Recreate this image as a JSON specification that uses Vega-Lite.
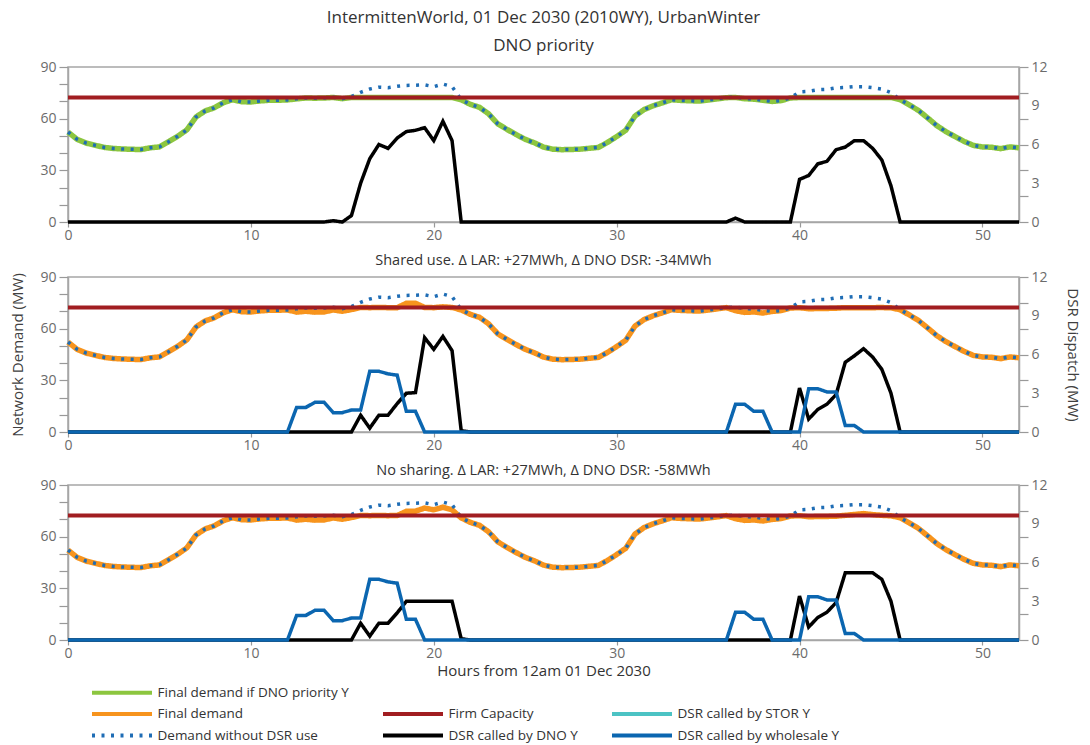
{
  "$schema": "https://vega.github.io/schema/vega-lite/v6.json",
  "padding": {"left": 10, "right": 2, "top": 8, "bottom": 1},
  "config": {
    "font": "Open Sans",
    "view": {"stroke": "#a6a6a6", "strokeWidth": 1.5},
    "axis": {"labelFont": "Open Sans", "labelFontSize": 14, "labelColor": "#6b6b6b", "domainColor": "#a6a6a6", "tickColor": "#999999", "domainWidth": 1.5, "tickWidth": 1.2, "grid": false, "titleFont": "Open Sans", "titleFontSize": 15, "titleColor": "#404040", "titleFontWeight": "normal", "labelFlush": false, "labelOverlap": false, "labelBound": false},
    "title": {"fontWeight": "normal", "color": "#333333", "font": "Open Sans", "frame": "group", "anchor": "middle"},
    "legend": {"labelFont": "Open Sans"},
    "concat": {"spacing": 8}
  },
  "datasets": {
    "cap": [{"t": 0, "v": 72.3}, {"t": 52, "v": 72.3}],
    "d": [
      {"t":0,"D":52.2,"F1":52.2,"F2":52.2,"F3":52.2,"K1":0,"K2":0,"K3":0,"W":0},
      {"t":0.5,"D":48.0,"F1":48.0,"F2":48.0,"F3":48.0,"K1":0,"K2":0,"K3":0,"W":0},
      {"t":1,"D":45.8,"F1":45.8,"F2":45.8,"F3":45.8,"K1":0,"K2":0,"K3":0,"W":0},
      {"t":1.5,"D":44.5,"F1":44.5,"F2":44.5,"F3":44.5,"K1":0,"K2":0,"K3":0,"W":0},
      {"t":2,"D":43.3,"F1":43.3,"F2":43.3,"F3":43.3,"K1":0,"K2":0,"K3":0,"W":0},
      {"t":2.5,"D":42.7,"F1":42.7,"F2":42.7,"F3":42.7,"K1":0,"K2":0,"K3":0,"W":0},
      {"t":3,"D":42.4,"F1":42.4,"F2":42.4,"F3":42.4,"K1":0,"K2":0,"K3":0,"W":0},
      {"t":3.5,"D":42.2,"F1":42.2,"F2":42.2,"F3":42.2,"K1":0,"K2":0,"K3":0,"W":0},
      {"t":4,"D":42.1,"F1":42.1,"F2":42.1,"F3":42.1,"K1":0,"K2":0,"K3":0,"W":0},
      {"t":4.5,"D":43.1,"F1":43.1,"F2":43.1,"F3":43.1,"K1":0,"K2":0,"K3":0,"W":0},
      {"t":5,"D":43.6,"F1":43.6,"F2":43.6,"F3":43.6,"K1":0,"K2":0,"K3":0,"W":0},
      {"t":5.5,"D":46.6,"F1":46.6,"F2":46.6,"F3":46.6,"K1":0,"K2":0,"K3":0,"W":0},
      {"t":6,"D":49.8,"F1":49.8,"F2":49.8,"F3":49.8,"K1":0,"K2":0,"K3":0,"W":0},
      {"t":6.5,"D":53.5,"F1":53.5,"F2":53.5,"F3":53.5,"K1":0,"K2":0,"K3":0,"W":0},
      {"t":7,"D":61.0,"F1":61.0,"F2":61.0,"F3":61.0,"K1":0,"K2":0,"K3":0,"W":0},
      {"t":7.5,"D":64.5,"F1":64.5,"F2":64.5,"F3":64.5,"K1":0,"K2":0,"K3":0,"W":0},
      {"t":8,"D":66.3,"F1":66.3,"F2":66.3,"F3":66.3,"K1":0,"K2":0,"K3":0,"W":0},
      {"t":8.5,"D":69.3,"F1":69.3,"F2":69.3,"F3":69.3,"K1":0,"K2":0,"K3":0,"W":0},
      {"t":9,"D":71.0,"F1":71.0,"F2":71.0,"F3":71.0,"K1":0,"K2":0,"K3":0,"W":0},
      {"t":9.5,"D":69.8,"F1":69.8,"F2":69.8,"F3":69.8,"K1":0,"K2":0,"K3":0,"W":0},
      {"t":10,"D":69.7,"F1":69.7,"F2":69.7,"F3":69.7,"K1":0,"K2":0,"K3":0,"W":0},
      {"t":10.5,"D":70.3,"F1":70.3,"F2":70.3,"F3":70.3,"K1":0,"K2":0,"K3":0,"W":0},
      {"t":11,"D":70.7,"F1":70.7,"F2":70.7,"F3":70.7,"K1":0,"K2":0,"K3":0,"W":0},
      {"t":11.5,"D":70.7,"F1":70.7,"F2":70.7,"F3":70.7,"K1":0,"K2":0,"K3":0,"W":0},
      {"t":12,"D":70.9,"F1":70.9,"F2":70.9,"F3":70.9,"K1":0,"K2":0,"K3":0,"W":0},
      {"t":12.5,"D":71.5,"F1":71.5,"F2":69.6,"F3":69.6,"K1":0,"K2":0,"K3":0,"W":1.9},
      {"t":13,"D":72.0,"F1":72.0,"F2":70.1,"F3":70.1,"K1":0,"K2":0,"K3":0,"W":1.9},
      {"t":13.5,"D":71.9,"F1":71.9,"F2":69.6,"F3":69.6,"K1":0,"K2":0,"K3":0,"W":2.3},
      {"t":14,"D":72.0,"F1":72.0,"F2":69.7,"F3":69.7,"K1":0,"K2":0,"K3":0,"W":2.3},
      {"t":14.5,"D":72.4,"F1":72.3,"F2":70.9,"F3":70.9,"K1":0.1,"K2":0,"K3":0,"W":1.5},
      {"t":15,"D":71.6,"F1":71.6,"F2":70.1,"F3":70.1,"K1":0,"K2":0,"K3":0,"W":1.5},
      {"t":15.5,"D":72.8,"F1":72.3,"F2":71.1,"F3":71.1,"K1":0.5,"K2":0,"K3":0,"W":1.7},
      {"t":16,"D":75.3,"F1":72.3,"F2":72.3,"F3":72.3,"K1":3.0,"K2":1.3,"K3":1.3,"W":1.7},
      {"t":16.5,"D":77.2,"F1":72.3,"F2":72.2,"F3":72.2,"K1":4.9,"K2":0.3,"K3":0.3,"W":4.7},
      {"t":17,"D":78.3,"F1":72.3,"F2":72.3,"F3":72.3,"K1":6.0,"K2":1.3,"K3":1.3,"W":4.7},
      {"t":17.5,"D":78.0,"F1":72.3,"F2":72.2,"F3":72.2,"K1":5.7,"K2":1.3,"K3":1.3,"W":4.5},
      {"t":18,"D":78.8,"F1":72.3,"F2":72.2,"F3":72.3,"K1":6.5,"K2":2.2,"K3":2.1,"W":4.4},
      {"t":18.5,"D":79.3,"F1":72.3,"F2":74.7,"F3":74.7,"K1":7.0,"K2":3.0,"K3":3.0,"W":1.6},
      {"t":19,"D":79.4,"F1":72.3,"F2":74.75,"F3":74.8,"K1":7.1,"K2":3.05,"K3":3.0,"W":1.6},
      {"t":19.5,"D":79.6,"F1":72.3,"F2":72.3,"F3":76.6,"K1":7.3,"K2":7.3,"K3":3.0,"W":0},
      {"t":20,"D":78.6,"F1":72.3,"F2":72.2,"F3":75.6,"K1":6.3,"K2":6.4,"K3":3.0,"W":0},
      {"t":20.5,"D":80.1,"F1":72.3,"F2":72.7,"F3":77.1,"K1":7.8,"K2":7.4,"K3":3.0,"W":0},
      {"t":21,"D":78.6,"F1":72.3,"F2":72.3,"F3":75.6,"K1":6.3,"K2":6.3,"K3":3.0,"W":0},
      {"t":21.5,"D":71.0,"F1":71.0,"F2":70.9,"F3":70.9,"K1":0,"K2":0.1,"K3":0.1,"W":0},
      {"t":22,"D":68.3,"F1":68.3,"F2":68.3,"F3":68.3,"K1":0,"K2":0,"K3":0,"W":0},
      {"t":22.5,"D":66.6,"F1":66.6,"F2":66.6,"F3":66.6,"K1":0,"K2":0,"K3":0,"W":0},
      {"t":23,"D":62.8,"F1":62.8,"F2":62.8,"F3":62.8,"K1":0,"K2":0,"K3":0,"W":0},
      {"t":23.5,"D":57.0,"F1":57.0,"F2":57.0,"F3":57.0,"K1":0,"K2":0,"K3":0,"W":0},
      {"t":24,"D":53.8,"F1":53.8,"F2":53.8,"F3":53.8,"K1":0,"K2":0,"K3":0,"W":0},
      {"t":24.5,"D":50.8,"F1":50.8,"F2":50.8,"F3":50.8,"K1":0,"K2":0,"K3":0,"W":0},
      {"t":25,"D":48.0,"F1":48.0,"F2":48.0,"F3":48.0,"K1":0,"K2":0,"K3":0,"W":0},
      {"t":25.5,"D":46.0,"F1":46.0,"F2":46.0,"F3":46.0,"K1":0,"K2":0,"K3":0,"W":0},
      {"t":26,"D":43.5,"F1":43.5,"F2":43.5,"F3":43.5,"K1":0,"K2":0,"K3":0,"W":0},
      {"t":26.5,"D":42.3,"F1":42.3,"F2":42.3,"F3":42.3,"K1":0,"K2":0,"K3":0,"W":0},
      {"t":27,"D":42.0,"F1":42.0,"F2":42.0,"F3":42.0,"K1":0,"K2":0,"K3":0,"W":0},
      {"t":27.5,"D":42.1,"F1":42.1,"F2":42.1,"F3":42.1,"K1":0,"K2":0,"K3":0,"W":0},
      {"t":28,"D":42.3,"F1":42.3,"F2":42.3,"F3":42.3,"K1":0,"K2":0,"K3":0,"W":0},
      {"t":28.5,"D":42.8,"F1":42.8,"F2":42.8,"F3":42.8,"K1":0,"K2":0,"K3":0,"W":0},
      {"t":29,"D":43.3,"F1":43.3,"F2":43.3,"F3":43.3,"K1":0,"K2":0,"K3":0,"W":0},
      {"t":29.5,"D":46.2,"F1":46.2,"F2":46.2,"F3":46.2,"K1":0,"K2":0,"K3":0,"W":0},
      {"t":30,"D":49.6,"F1":49.6,"F2":49.6,"F3":49.6,"K1":0,"K2":0,"K3":0,"W":0},
      {"t":30.5,"D":53.3,"F1":53.3,"F2":53.3,"F3":53.3,"K1":0,"K2":0,"K3":0,"W":0},
      {"t":31,"D":61.5,"F1":61.5,"F2":61.5,"F3":61.5,"K1":0,"K2":0,"K3":0,"W":0},
      {"t":31.5,"D":65.3,"F1":65.3,"F2":65.3,"F3":65.3,"K1":0,"K2":0,"K3":0,"W":0},
      {"t":32,"D":67.5,"F1":67.5,"F2":67.5,"F3":67.5,"K1":0,"K2":0,"K3":0,"W":0},
      {"t":32.5,"D":69.2,"F1":69.2,"F2":69.2,"F3":69.2,"K1":0,"K2":0,"K3":0,"W":0},
      {"t":33,"D":71.0,"F1":71.0,"F2":71.0,"F3":71.0,"K1":0,"K2":0,"K3":0,"W":0},
      {"t":33.5,"D":70.6,"F1":70.6,"F2":70.6,"F3":70.6,"K1":0,"K2":0,"K3":0,"W":0},
      {"t":34,"D":70.4,"F1":70.4,"F2":70.4,"F3":70.4,"K1":0,"K2":0,"K3":0,"W":0},
      {"t":34.5,"D":70.2,"F1":70.2,"F2":70.2,"F3":70.2,"K1":0,"K2":0,"K3":0,"W":0},
      {"t":35,"D":70.8,"F1":70.8,"F2":70.8,"F3":70.8,"K1":0,"K2":0,"K3":0,"W":0},
      {"t":35.5,"D":71.5,"F1":71.5,"F2":71.5,"F3":71.5,"K1":0,"K2":0,"K3":0,"W":0},
      {"t":36,"D":72.2,"F1":72.2,"F2":72.2,"F3":72.2,"K1":0,"K2":0,"K3":0,"W":0},
      {"t":36.5,"D":72.6,"F1":72.3,"F2":70.45,"F3":70.45,"K1":0.3,"K2":0,"K3":0,"W":2.15},
      {"t":37,"D":71.6,"F1":71.6,"F2":69.45,"F3":69.45,"K1":0,"K2":0,"K3":0,"W":2.15},
      {"t":37.5,"D":71.3,"F1":71.3,"F2":69.7,"F3":69.7,"K1":0,"K2":0,"K3":0,"W":1.6},
      {"t":38,"D":70.7,"F1":70.7,"F2":69.1,"F3":69.1,"K1":0,"K2":0,"K3":0,"W":1.6},
      {"t":38.5,"D":70.0,"F1":70.0,"F2":70.0,"F3":70.0,"K1":0,"K2":0,"K3":0,"W":0},
      {"t":39,"D":70.5,"F1":70.5,"F2":70.5,"F3":70.5,"K1":0,"K2":0,"K3":0,"W":0},
      {"t":39.5,"D":72.0,"F1":72.0,"F2":72.0,"F3":72.0,"K1":0,"K2":0,"K3":0,"W":0},
      {"t":40,"D":75.6,"F1":72.3,"F2":72.2,"F3":72.2,"K1":3.3,"K2":3.4,"K3":3.4,"W":0},
      {"t":40.5,"D":75.9,"F1":72.3,"F2":71.55,"F3":71.55,"K1":3.6,"K2":1.0,"K3":1.0,"W":3.35},
      {"t":41,"D":76.8,"F1":72.3,"F2":71.7,"F3":71.7,"K1":4.5,"K2":1.75,"K3":1.75,"W":3.35},
      {"t":41.5,"D":77.0,"F1":72.3,"F2":71.75,"F3":71.75,"K1":4.7,"K2":2.15,"K3":2.15,"W":3.1},
      {"t":42,"D":77.9,"F1":72.3,"F2":71.9,"F3":71.9,"K1":5.6,"K2":2.9,"K3":2.9,"W":3.1},
      {"t":42.5,"D":78.1,"F1":72.3,"F2":72.2,"F3":72.4,"K1":5.8,"K2":5.4,"K3":5.2,"W":0.5},
      {"t":43,"D":78.6,"F1":72.3,"F2":72.2,"F3":72.9,"K1":6.3,"K2":5.9,"K3":5.2,"W":0.5},
      {"t":43.5,"D":78.6,"F1":72.3,"F2":72.15,"F3":73.4,"K1":6.3,"K2":6.45,"K3":5.2,"W":0},
      {"t":44,"D":78.0,"F1":72.3,"F2":72.2,"F3":72.8,"K1":5.7,"K2":5.8,"K3":5.2,"W":0},
      {"t":44.5,"D":77.1,"F1":72.3,"F2":72.25,"F3":72.4,"K1":4.8,"K2":4.85,"K3":4.7,"W":0},
      {"t":45,"D":75.1,"F1":72.3,"F2":72.1,"F3":72.1,"K1":2.8,"K2":3.0,"K3":3.0,"W":0},
      {"t":45.5,"D":71.0,"F1":71.0,"F2":71.0,"F3":71.0,"K1":0,"K2":0,"K3":0,"W":0},
      {"t":46,"D":68.0,"F1":68.0,"F2":68.0,"F3":68.0,"K1":0,"K2":0,"K3":0,"W":0},
      {"t":46.5,"D":64.8,"F1":64.8,"F2":64.8,"F3":64.8,"K1":0,"K2":0,"K3":0,"W":0},
      {"t":47,"D":60.5,"F1":60.5,"F2":60.5,"F3":60.5,"K1":0,"K2":0,"K3":0,"W":0},
      {"t":47.5,"D":56.0,"F1":56.0,"F2":56.0,"F3":56.0,"K1":0,"K2":0,"K3":0,"W":0},
      {"t":48,"D":52.5,"F1":52.5,"F2":52.5,"F3":52.5,"K1":0,"K2":0,"K3":0,"W":0},
      {"t":48.5,"D":49.6,"F1":49.6,"F2":49.6,"F3":49.6,"K1":0,"K2":0,"K3":0,"W":0},
      {"t":49,"D":46.8,"F1":46.8,"F2":46.8,"F3":46.8,"K1":0,"K2":0,"K3":0,"W":0},
      {"t":49.5,"D":44.5,"F1":44.5,"F2":44.5,"F3":44.5,"K1":0,"K2":0,"K3":0,"W":0},
      {"t":50,"D":43.6,"F1":43.6,"F2":43.6,"F3":43.6,"K1":0,"K2":0,"K3":0,"W":0},
      {"t":50.5,"D":43.4,"F1":43.4,"F2":43.4,"F3":43.4,"K1":0,"K2":0,"K3":0,"W":0},
      {"t":51,"D":42.6,"F1":42.6,"F2":42.6,"F3":42.6,"K1":0,"K2":0,"K3":0,"W":0},
      {"t":51.5,"D":43.6,"F1":43.6,"F2":43.6,"F3":43.6,"K1":0,"K2":0,"K3":0,"W":0},
      {"t":52,"D":43.1,"F1":43.1,"F2":43.1,"F3":43.1,"K1":0,"K2":0,"K3":0,"W":0}
    ]
  },
  "vconcat": [
    {
      "width": 951, "height": 155,
      "title": {"text": ["IntermittenWorld, 01 Dec 2030 (2010WY), UrbanWinter", "DNO priority"], "fontSize": 17, "lineHeight": 28, "offset": 5},
      "data": {"name": "d"},
      "encoding": {"x": {"field": "t", "type": "quantitative", "scale": {"domain": [0, 52], "nice": false, "zero": false}, "axis": {"values": [0, 10, 20, 30, 40, 50], "title": null, "tickSize": 5, "labelPadding": 1, "labelOverlap": false}}},
      "layer": [
        {"layer": [
          {"mark": {"type": "line", "strokeWidth": 5.5}, "encoding": {
            "y": {"field": "F1", "type": "quantitative", "scale": {"domain": [0, 90], "nice": false}, "axis": {"values": [0,10,20,30,40,50,60,70,80,90], "labelExpr": "datum.value % 30 == 0 ? datum.label : ''", "labelOverlap": false, "tickSize": 9, "labelPadding": 3, "title": null}},
            "color": {"datum": "Final demand if DNO priority Y", "scale": {"domain": ["Final demand if DNO priority Y", "Final demand", "Demand without DSR use", " ", "Firm Capacity", "DSR called by DNO Y", "  ", "DSR called by STOR Y", "DSR called by wholesale Y"], "range": ["#8cc63f", "#f7941d", "#1f6db5", "transparent", "#a11d21", "#000000", "transparent", "#4cc3c4", "#0b66b0"]},
              "legend": {"orient": "none", "legendX": 22, "legendY": 616, "columns": 3, "title": null, "symbolType": "M-4,0H4", "symbolSize": 225, "symbolOffset": 22.5, "labelOffset": 26, "symbolStrokeWidth": 4, "labelFontSize": 13.5, "labelColor": "#333333", "rowPadding": 3.5, "columnPadding": 26, "labelLimit": 400}},
            "strokeDash": {"datum": "Final demand if DNO priority Y", "scale": {"domain": ["Final demand if DNO priority Y", "Final demand", "Demand without DSR use", " ", "Firm Capacity", "DSR called by DNO Y", "  ", "DSR called by STOR Y", "DSR called by wholesale Y"], "range": [[1,0],[1,0],[3,6.5],[1,0],[1,0],[1,0],[1,0],[1,0],[1,0]]}}
          }},
          {"mark": {"type": "line", "strokeWidth": 3.5}, "encoding": {
            "y": {"field": "D", "type": "quantitative", "scale": {"domain": [0, 90], "nice": false}, "axis": {"values": [0,10,20,30,40,50,60,70,80,90], "labelExpr": "datum.value % 30 == 0 ? datum.label : ''", "labelOverlap": false, "tickSize": 9, "labelPadding": 3, "title": null}},
            "color": {"datum": "Demand without DSR use"},
            "strokeDash": {"datum": "Demand without DSR use"}
          }},
          {"data": {"name": "cap"}, "mark": {"type": "line", "strokeWidth": 4}, "encoding": {
            "y": {"field": "v", "type": "quantitative", "scale": {"domain": [0, 90], "nice": false}, "axis": {"values": [0,10,20,30,40,50,60,70,80,90], "labelExpr": "datum.value % 30 == 0 ? datum.label : ''", "labelOverlap": false, "tickSize": 9, "labelPadding": 3, "title": null}},
            "color": {"datum": "Firm Capacity"},
            "strokeDash": {"datum": "Firm Capacity"}
          }}
        ]},
        {"layer": [
          {"mark": {"type": "line", "strokeWidth": 3.5}, "encoding": {
            "y": {"field": "K1", "type": "quantitative", "scale": {"domain": [0, 12], "nice": false}, "axis": {"orient": "right", "values": [0,2,3,4,6,8,9,10,12], "labelExpr": "datum.value % 3 == 0 ? datum.label : ''", "labelOverlap": false, "tickOpacity": {"condition": {"test": "datum.value % 2 == 0", "value": 1}, "value": 0}, "tickSize": 9, "labelPadding": 3, "title": null}},
            "color": {"datum": "DSR called by DNO Y"},
            "strokeDash": {"datum": "DSR called by DNO Y"}
          }}
        ]}
      ],
      "resolve": {"scale": {"y": "independent"}}
    },
    {
      "width": 951, "height": 155,
      "title": {"text": "Shared use. Δ LAR: +27MWh, Δ DNO DSR: -34MWh", "fontSize": 14.5, "offset": 2},
      "data": {"name": "d"},
      "encoding": {"x": {"field": "t", "type": "quantitative", "scale": {"domain": [0, 52], "nice": false, "zero": false}, "axis": {"values": [0, 10, 20, 30, 40, 50], "title": null, "tickSize": 5, "labelPadding": 1, "labelOverlap": false}}},
      "layer": [
        {"layer": [
          {"mark": {"type": "line", "strokeWidth": 5.5}, "encoding": {
            "y": {"field": "F2", "type": "quantitative", "scale": {"domain": [0, 90], "nice": false}, "axis": {"values": [0,10,20,30,40,50,60,70,80,90], "labelExpr": "datum.value % 30 == 0 ? datum.label : ''", "labelOverlap": false, "tickSize": 9, "labelPadding": 3, "title": "Network Demand (MW)", "titlePadding": 14}},
            "color": {"datum": "Final demand"},
            "strokeDash": {"datum": "Final demand"}
          }},
          {"mark": {"type": "line", "strokeWidth": 3.5}, "encoding": {
            "y": {"field": "D", "type": "quantitative", "scale": {"domain": [0, 90], "nice": false}, "axis": {"values": [0,10,20,30,40,50,60,70,80,90], "labelExpr": "datum.value % 30 == 0 ? datum.label : ''", "labelOverlap": false, "tickSize": 9, "labelPadding": 3, "title": "Network Demand (MW)", "titlePadding": 14}},
            "color": {"datum": "Demand without DSR use"},
            "strokeDash": {"datum": "Demand without DSR use"}
          }},
          {"data": {"name": "cap"}, "mark": {"type": "line", "strokeWidth": 4}, "encoding": {
            "y": {"field": "v", "type": "quantitative", "scale": {"domain": [0, 90], "nice": false}, "axis": {"values": [0,10,20,30,40,50,60,70,80,90], "labelExpr": "datum.value % 30 == 0 ? datum.label : ''", "labelOverlap": false, "tickSize": 9, "labelPadding": 3, "title": "Network Demand (MW)", "titlePadding": 14}},
            "color": {"datum": "Firm Capacity"},
            "strokeDash": {"datum": "Firm Capacity"}
          }}
        ]},
        {"layer": [
          {"mark": {"type": "line", "strokeWidth": 3.5}, "encoding": {
            "y": {"field": "K2", "type": "quantitative", "scale": {"domain": [0, 12], "nice": false}, "axis": {"orient": "right", "values": [0,2,3,4,6,8,9,10,12], "labelExpr": "datum.value % 3 == 0 ? datum.label : ''", "labelOverlap": false, "tickOpacity": {"condition": {"test": "datum.value % 2 == 0", "value": 1}, "value": 0}, "tickSize": 9, "labelPadding": 3, "title": "DSR Dispatch (MW)", "titlePadding": 17}},
            "color": {"datum": "DSR called by DNO Y"},
            "strokeDash": {"datum": "DSR called by DNO Y"}
          }},
          {"mark": {"type": "line", "strokeWidth": 3.5}, "encoding": {
            "y": {"field": "W", "type": "quantitative", "scale": {"domain": [0, 12], "nice": false}, "axis": {"orient": "right", "values": [0,2,3,4,6,8,9,10,12], "labelExpr": "datum.value % 3 == 0 ? datum.label : ''", "labelOverlap": false, "tickOpacity": {"condition": {"test": "datum.value % 2 == 0", "value": 1}, "value": 0}, "tickSize": 9, "labelPadding": 3, "title": "DSR Dispatch (MW)", "titlePadding": 17}},
            "color": {"datum": "DSR called by wholesale Y"},
            "strokeDash": {"datum": "DSR called by wholesale Y"}
          }}
        ]}
      ],
      "resolve": {"scale": {"y": "independent"}}
    },
    {
      "width": 951, "height": 155,
      "title": {"text": "No sharing. Δ LAR: +27MWh, Δ DNO DSR: -58MWh", "fontSize": 14.5, "offset": 0},
      "data": {"name": "d"},
      "encoding": {"x": {"field": "t", "type": "quantitative", "scale": {"domain": [0, 52], "nice": false, "zero": false}, "axis": {"values": [0, 10, 20, 30, 40, 50], "title": "Hours from 12am 01 Dec 2030", "titleFontSize": 15, "titlePadding": 3, "titleColor": "#333333", "tickSize": 5, "labelPadding": 1, "labelOverlap": false}}},
      "layer": [
        {"layer": [
          {"mark": {"type": "line", "strokeWidth": 5.5}, "encoding": {
            "y": {"field": "F3", "type": "quantitative", "scale": {"domain": [0, 90], "nice": false}, "axis": {"values": [0,10,20,30,40,50,60,70,80,90], "labelExpr": "datum.value % 30 == 0 ? datum.label : ''", "labelOverlap": false, "tickSize": 9, "labelPadding": 3, "title": null}},
            "color": {"datum": "Final demand"},
            "strokeDash": {"datum": "Final demand"}
          }},
          {"mark": {"type": "line", "strokeWidth": 3.5}, "encoding": {
            "y": {"field": "D", "type": "quantitative", "scale": {"domain": [0, 90], "nice": false}, "axis": {"values": [0,10,20,30,40,50,60,70,80,90], "labelExpr": "datum.value % 30 == 0 ? datum.label : ''", "labelOverlap": false, "tickSize": 9, "labelPadding": 3, "title": null}},
            "color": {"datum": "Demand without DSR use"},
            "strokeDash": {"datum": "Demand without DSR use"}
          }},
          {"data": {"name": "cap"}, "mark": {"type": "line", "strokeWidth": 4}, "encoding": {
            "y": {"field": "v", "type": "quantitative", "scale": {"domain": [0, 90], "nice": false}, "axis": {"values": [0,10,20,30,40,50,60,70,80,90], "labelExpr": "datum.value % 30 == 0 ? datum.label : ''", "labelOverlap": false, "tickSize": 9, "labelPadding": 3, "title": null}},
            "color": {"datum": "Firm Capacity"},
            "strokeDash": {"datum": "Firm Capacity"}
          }}
        ]},
        {"layer": [
          {"mark": {"type": "line", "strokeWidth": 3.5}, "encoding": {
            "y": {"field": "K3", "type": "quantitative", "scale": {"domain": [0, 12], "nice": false}, "axis": {"orient": "right", "values": [0,2,3,4,6,8,9,10,12], "labelExpr": "datum.value % 3 == 0 ? datum.label : ''", "labelOverlap": false, "tickOpacity": {"condition": {"test": "datum.value % 2 == 0", "value": 1}, "value": 0}, "tickSize": 9, "labelPadding": 3, "title": null}},
            "color": {"datum": "DSR called by DNO Y"},
            "strokeDash": {"datum": "DSR called by DNO Y"}
          }},
          {"mark": {"type": "line", "strokeWidth": 3.5}, "encoding": {
            "y": {"field": "W", "type": "quantitative", "scale": {"domain": [0, 12], "nice": false}, "axis": {"orient": "right", "values": [0,2,3,4,6,8,9,10,12], "labelExpr": "datum.value % 3 == 0 ? datum.label : ''", "labelOverlap": false, "tickOpacity": {"condition": {"test": "datum.value % 2 == 0", "value": 1}, "value": 0}, "tickSize": 9, "labelPadding": 3, "title": null}},
            "color": {"datum": "DSR called by wholesale Y"},
            "strokeDash": {"datum": "DSR called by wholesale Y"}
          }}
        ]}
      ],
      "resolve": {"scale": {"y": "independent"}}
    }
  ]
}
